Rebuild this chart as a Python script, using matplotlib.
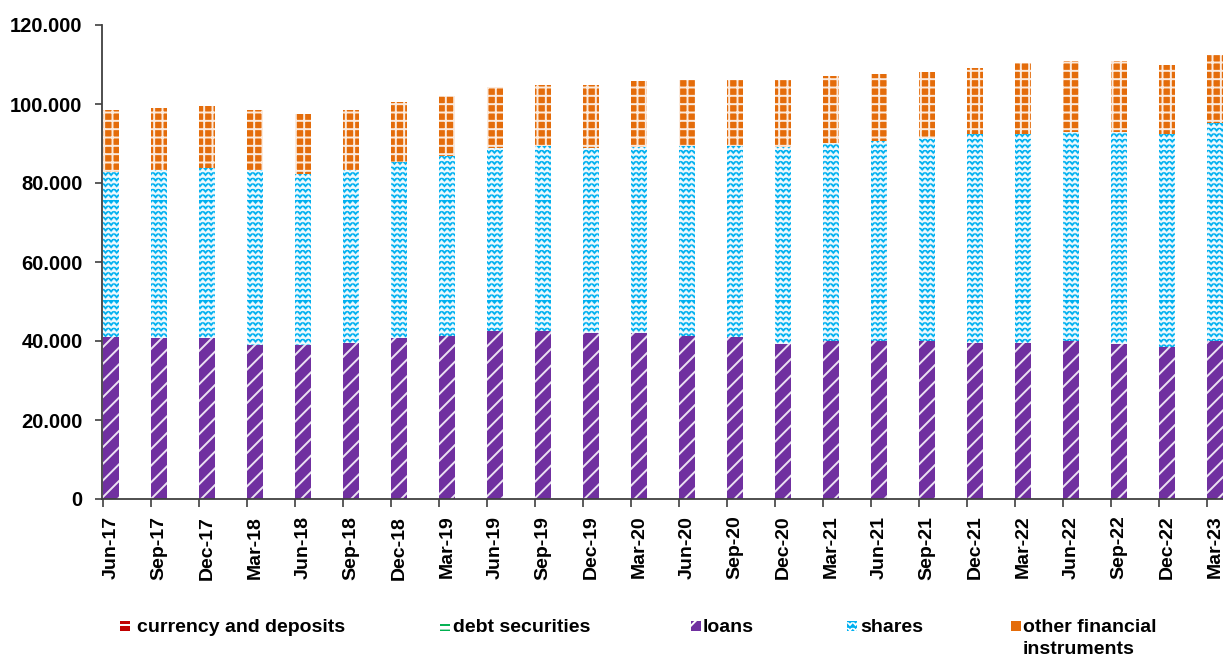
import matplotlib
matplotlib.use('Agg')
import matplotlib.pyplot as plt
import matplotlib.hatch as mhatch
from matplotlib.patches import Rectangle
from matplotlib.ticker import FuncFormatter
import numpy as np

quarters = ['Jun-17', 'Sep-17', 'Dec-17', 'Mar-18', 'Jun-18', 'Sep-18', 'Dec-18', 'Mar-19',
            'Jun-19', 'Sep-19', 'Dec-19', 'Mar-20', 'Jun-20', 'Sep-20', 'Dec-20', 'Mar-21',
            'Jun-21', 'Sep-21', 'Dec-21', 'Mar-22', 'Jun-22', 'Sep-22', 'Dec-22', 'Mar-23']

currency_deposits = [0, 0, 0, 0, 0, 0, 0, 0, 0, 0, 0, 0, 0, 0, 0, 0, 0, 0, 0, 0, 0, 0, 0, 0]
debt_securities = [0, 0, 0, 0, 0, 0, 0, 0, 0, 0, 0, 0, 0, 0, 0, 0, 0, 0, 0, 0, 0, 0, 0, 0]
loans = [41100, 40700, 40700, 39100, 39100, 39600, 40800, 41200, 42500, 42500, 41900, 41900,
         41300, 41000, 39300, 40100, 40100, 40100, 39500, 39500, 40100, 39300, 38600, 40100]
shares = [41700, 42500, 43200, 44100, 43200, 43600, 44400, 45600, 46300, 46900, 46900, 47300,
          48100, 48400, 49900, 50000, 50600, 51300, 52900, 52900, 52900, 53700, 53800, 55000]
other = [15600, 15900, 15500, 15200, 15100, 15200, 15200, 15300, 15600, 15500, 16100, 16500,
         16600, 16600, 16800, 16900, 17000, 16800, 16600, 17900, 17900, 17900, 17500, 17400]

labels = ['currency and deposits', 'debt securities', 'loans', 'shares',
          'other financial\ninstruments']
colors = ['#C00000', '#00B050', '#7030A0', '#00B0F0', '#E46C0A']


# excel-like wave fill for the shares series
class ZigZagHatch(mhatch.HatchPatternBase):
    def __init__(self, hatch, density):
        self.num_rows = int(hatch.count('z') * density)
        self.num_peaks = 18
        self.num_vertices = self.num_rows * (2 * self.num_peaks + 1)

    def set_vertices_and_codes(self, vertices, codes):
        n = 2 * self.num_peaks + 1
        xs = np.linspace(0, 1, n)
        amp = 0.55 / max(self.num_rows, 1)
        k = 0
        for r in range(self.num_rows):
            y0 = r / self.num_rows
            for j in range(n):
                vertices[k] = (xs[j], y0 + (amp if j % 2 else 0))
                codes[k] = mhatch.Path.MOVETO if j == 0 else mhatch.Path.LINETO
                k += 1


mhatch._hatch_types.append(ZigZagHatch)

plt.rcParams['font.family'] = ['Liberation Sans', 'DejaVu Sans']
plt.rcParams['font.weight'] = 'bold'
plt.rcParams['hatch.linewidth'] = 1.4

fig = plt.figure(figsize=(12.23, 6.57), dpi=100)
ax = fig.add_axes([102 / 1223, 1 - 499 / 657, 1 - 102 / 1223, 474 / 657])

x = np.arange(len(quarters))
w = 1 / 3
hatches = ['-', '---', '//', 'zzz', '++']
bottom = np.zeros(len(quarters))
for vals, col, hat in zip([currency_deposits, debt_securities, loans, shares, other], colors, hatches):
    ax.bar(x, vals, w, bottom=bottom, align='edge', color=col, edgecolor='#FFFFFFDD',
           linewidth=0, hatch=hat)
    bottom += np.array(vals)

ax.set_xlim(-1 / 48, len(quarters) - 1 + w)
ax.set_ylim(0, 120000)
ax.set_yticks(np.arange(0, 120001, 20000))
ax.yaxis.set_major_formatter(FuncFormatter(lambda v, p: f'{v:,.0f}'.replace(',', '.')))
ax.set_xticks(x + w / 2)
ax.set_xticklabels(quarters, rotation=90, va='top', ha='center')
ax.set_xticks(x, minor=True)
ax.tick_params(axis='x', which='major', length=0, pad=12, labelsize=14)
ax.tick_params(axis='x', which='minor', length=6, width=1.2, color='#404040')
ax.tick_params(axis='y', length=5, width=1.2, color='#404040', pad=9, labelsize=14.5)
for s in ['top', 'right']:
    ax.spines[s].set_visible(False)
for s in ['left', 'bottom']:
    ax.spines[s].set_color('#404040')
    ax.spines[s].set_linewidth(1.3)

# legend along the bottom
marker_px = [120, 440, 691, 847, 1011]
text_px = [137, 453, 703, 860, 1023]
face = ['#C00000', 'white', '#7030A0', 'white', '#E46C0A']
hcol = ['white', '#00B050', 'white', '#00B0F0', '#E46C0A']
for i, lab in enumerate(labels):
    fig.patches.append(Rectangle((marker_px[i] / 1223, 1 - 631 / 657), 10 / 1223, 10 / 657,
                                 transform=fig.transFigure, facecolor=face[i],
                                 edgecolor=hcol[i], hatch=hatches[i], linewidth=0))
    fig.text(text_px[i] / 1223, 1 - 619 / 657, lab, fontsize=14, fontweight='bold',
             ha='left', va='top', linespacing=1.35)

fig.savefig('out.png', dpi=100)
